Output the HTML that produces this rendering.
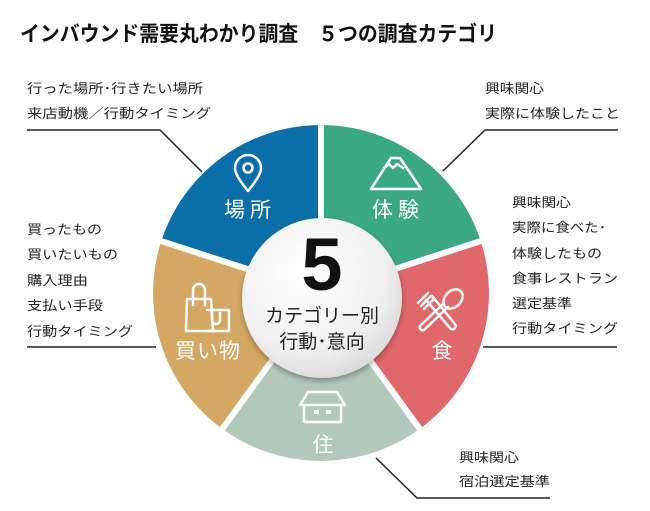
<!DOCTYPE html>
<html><head><meta charset="utf-8"><style>
html,body{margin:0;padding:0;background:#fff}
svg{display:block}
text{font-family:"Liberation Sans","Noto Sans CJK JP",sans-serif}
</style></head><body>
<svg width="650" height="511" viewBox="0 0 650 511" xmlns="http://www.w3.org/2000/svg">
<defs>
<radialGradient id="ig" cx="0.4" cy="0.35" r="0.7">
<stop offset="0" stop-color="#ffffff"/><stop offset="0.7" stop-color="#f0f0f0"/><stop offset="1" stop-color="#d8d8d8"/>
</radialGradient>
<filter id="sh" x="-30%" y="-30%" width="160%" height="160%"><feDropShadow dx="0" dy="3" stdDeviation="3" flood-color="#000" flood-opacity="0.3"/></filter>
</defs>
<text x="20" y="41" font-size="21" font-weight="bold" fill="#111" textLength="477" lengthAdjust="spacingAndGlyphs">インバウンド需要丸わかり調査　５つの調査カテゴリ</text>

<g stroke="#fff" stroke-width="6" stroke-linejoin="miter">
<path d="M321,293 L158.4,240.2 A171,171 0 0 1 321,122 Z" fill="#0a6fa8"/>
<path d="M321,293 L321,122 A171,171 0 0 1 483.6,240.2 Z" fill="#3aa882"/>
<path d="M321,293 L483.6,240.2 A171,171 0 0 1 421.5,431.3 Z" fill="#e0676a"/>
<path d="M321,293 L421.5,431.3 A171,171 0 0 1 220.5,431.3 Z" fill="#b2c8b8"/>
<path d="M321,293 L220.5,431.3 A171,171 0 0 1 158.4,240.2 Z" fill="#d4a862"/>
</g>
<circle cx="322" cy="298" r="80" fill="url(#ig)" filter="url(#sh)"/>
<text x="322" y="290" font-size="74" font-weight="bold" fill="#111" text-anchor="middle">5</text>
<text x="322" y="322" font-size="19" fill="#222" text-anchor="middle">カテゴリー別</text>
<text x="322" y="348" font-size="19" fill="#222" text-anchor="middle">行動･意向</text>

<g fill="#fff" font-size="21" text-anchor="middle">
<text x="250" y="217" letter-spacing="5">場所</text>
<text x="398" y="217" letter-spacing="5">体験</text>
<text x="208" y="358" letter-spacing="1">買い物</text>
<text x="442" y="358">食</text>
<text x="323" y="452">住</text>
</g>
<g fill="none" stroke="#fff" stroke-width="2.5" stroke-linejoin="round" stroke-linecap="round">
<!-- pin -->
<path d="M248,191 C240,181 235,174 235,168 A13,13 0 0 1 261,168 C261,174 256,181 248,191 Z"/>
<circle cx="248" cy="168" r="4.5"/>
<!-- mountain -->
<path d="M391,158 L400,158 L421,189 L371,189 Z"/>
<path d="M384,168 L389,164 L393,168 L397,164 L403,168"/>
<!-- bag -->
<path d="M187,299 L211,299 L213,331 L186,331 Z"/>
<path d="M193,305 L193,290 A6,6 0 0 1 205,290 L205,305"/>
<path d="M207,310 L229,310 L229,331 L207,331"/>
<path d="M212,313 L212,320 A4,4 0 0 0 220,320 L220,313"/>
<!-- fork & spoon -->
<path d="M426,300 L450,328 A3,3 0 0 0 455,324 L432,296"/>
<path d="M418,303 L428,293 M421,306 L431,296 M424,309 L434,299"/>
<path d="M448,307 L424,330 A3,3 0 0 1 420,326 L444,303"/>
<ellipse cx="453" cy="299" rx="8" ry="11" transform="rotate(45 453 299)"/>
<!-- house -->
<path d="M300,405 L308,392 L337,392 L345,405 Z M304,405 L304,422 L341,422 L341,405"/>
</g>
<g fill="#fff"><rect x="314" y="410" width="5" height="4"/><rect x="326" y="410" width="5" height="4"/></g>

<g stroke="#222" stroke-width="1.5" fill="none">
<polyline points="27,130 160,130 202,172"/>
<polyline points="27,347 156,347"/>
<polyline points="618,130 485,130 443,171"/>
<polyline points="617,347 483,347"/>
<polyline points="550,498 417,498 376,458"/>
</g>
<g fill="#222" font-size="13">
<text x="27" y="93" textLength="176" lengthAdjust="spacingAndGlyphs">行った場所･行きたい場所</text>
<text x="27" y="118" textLength="184" lengthAdjust="spacingAndGlyphs">来店動機／行動タイミング</text>
<text x="27" y="234" textLength="75" lengthAdjust="spacingAndGlyphs">買ったもの</text>
<text x="27" y="259" textLength="91" lengthAdjust="spacingAndGlyphs">買いたいもの</text>
<text x="27" y="285" textLength="61" lengthAdjust="spacingAndGlyphs">購入理由</text>
<text x="27" y="310" textLength="76" lengthAdjust="spacingAndGlyphs">支払い手段</text>
<text x="27" y="336" textLength="106" lengthAdjust="spacingAndGlyphs">行動タイミング</text>
<text x="485" y="93" textLength="59" lengthAdjust="spacingAndGlyphs">興味関心</text>
<text x="485" y="118" textLength="135" lengthAdjust="spacingAndGlyphs">実際に体験したこと</text>
<text x="512" y="207" textLength="59" lengthAdjust="spacingAndGlyphs">興味関心</text>
<text x="512" y="232" textLength="94" lengthAdjust="spacingAndGlyphs">実際に食べた･</text>
<text x="512" y="258" textLength="90" lengthAdjust="spacingAndGlyphs">体験したもの</text>
<text x="512" y="283" textLength="106" lengthAdjust="spacingAndGlyphs">食事レストラン</text>
<text x="512" y="308" textLength="60" lengthAdjust="spacingAndGlyphs">選定基準</text>
<text x="512" y="333" textLength="106" lengthAdjust="spacingAndGlyphs">行動タイミング</text>
<text x="459" y="462" textLength="60" lengthAdjust="spacingAndGlyphs">興味関心</text>
<text x="459" y="486" textLength="91" lengthAdjust="spacingAndGlyphs">宿泊選定基準</text>
</g>
</svg>
</body></html>
